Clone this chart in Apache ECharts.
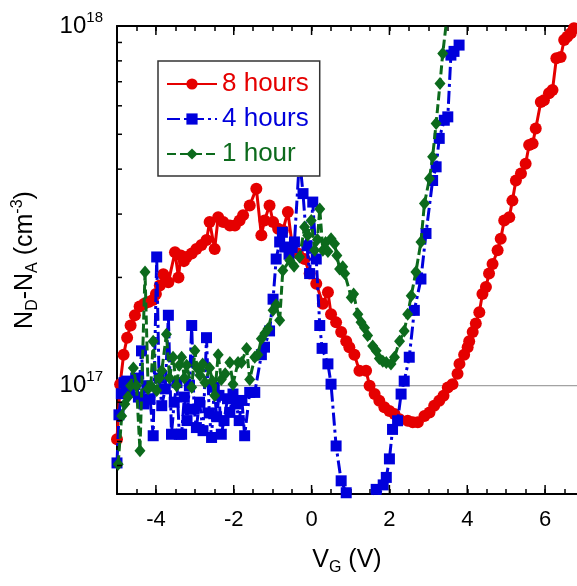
<!DOCTYPE html>
<html>
<head>
<meta charset="utf-8">
<script src="https://cdn.jsdelivr.net/npm/echarts@6/dist/echarts.min.js"></script>
<style>
html,body{margin:0;padding:0;background:#fff;}
#chart{width:577px;height:586px;}
</style>
</head>
<body>
<div id="chart"></div>
<script>
// ---- data ----
const seriesNames = ['8 hours', '4 hours', '1 hour'];

const v8 = [-5.00,-4.92,-4.83,-4.74,-4.65,-4.54,-4.42,-4.30,-4.19,-4.08,
  -4.00,-3.90,-3.81,-3.68,-3.51,-3.42,-3.36,-3.28,-3.21,-3.08,
  -2.96,-2.83,-2.70,-2.62,-2.49,-2.40,-2.27,-2.10,-1.97,-1.85,
  -1.76,-1.59,-1.42,-1.29,-1.21,-1.08,-0.99,-0.86,-0.74,-0.61,
  -0.48,-0.35,-0.18,-0.05,0.12,0.29,0.42,0.50,0.63,0.76,
  0.89,0.97,1.10,1.23,1.40,1.49,1.62,1.74,1.87,2.00,
  2.13,2.26,2.47,2.60,2.73,
  2.90,3.03,3.15,3.28,3.39,3.50,3.62,3.75,3.80,3.92,
  4.01,4.05,4.14,4.22,4.31,4.39,4.48,4.56,4.65,4.78,
  4.86,4.95,5.08,5.16,5.25,5.38,5.50,5.59,5.68,5.76,
  5.89,5.97,6.10,6.19,6.29,6.40,6.49,6.57,6.66,6.74];
const n8 = [7.1e16,1.01e17,1.22e17,1.36e17,1.47e17,1.57e17,1.66e17,1.69e17,1.71e17,1.73e17,
  1.80e17,1.90e17,2.04e17,1.94e17,2.35e17,2.0e17,2.3e17,2.22e17,2.28e17,2.33e17,
  2.40e17,2.46e17,2.54e17,2.85e17,2.40e17,2.94e17,2.85e17,2.79e17,2.79e17,2.88e17,
  2.98e17,3.17e17,3.53e17,2.62e17,2.88e17,3.17e17,2.85e17,2.73e17,2.70e17,3.04e17,
  2.38e17,2.33e17,2.25e17,2.05e17,1.92e17,1.69e17,1.82e17,1.58e17,1.50e17,1.41e17,
  1.33e17,1.28e17,1.22e17,1.10e17,1.10e17,1.00e17,9.48e16,9.08e16,8.71e16,8.51e16,
  8.34e16,8.07e16,7.99e16,7.91e16,7.91e16,
  8.24e16,8.43e16,8.79e16,9.08e16,9.38e16,9.89e16,1.01e17,1.08e17,1.15e17,1.22e17,
  1.28e17,1.33e17,1.41e17,1.49e17,1.60e17,1.80e17,1.88e17,2.05e17,2.18e17,2.38e17,
  2.56e17,2.88e17,2.94e17,3.27e17,3.72e17,3.89e17,4.14e17,4.67e17,4.71e17,5.19e17,
  6.15e17,6.22e17,6.50e17,6.64e17,8.13e17,8.20e17,9.14e17,9.33e17,9.55e17,9.86e17];

const v4 = [-5.00,-4.95,-4.89,-4.82,-4.75,-4.68,-4.60,-4.52,-4.45,-4.37,
  -4.31,-4.23,-4.15,-4.07,-3.98,-3.92,-3.85,-3.76,-3.68,-3.60,
  -3.53,-3.46,-3.40,-3.34,-3.27,-3.20,-3.14,-3.08,-3.02,-2.96,
  -2.88,-2.79,-2.70,-2.63,-2.57,-2.50,-2.44,-2.38,-2.32,-2.25,
  -2.16,-2.10,-2.02,-1.94,-1.86,-1.79,-1.72,-1.59,-1.46,-1.29,
  -1.21,-1.08,-0.99,-0.91,-0.82,-0.75,-0.69,-0.58,-0.50,-0.44,
  -0.31,-0.22,-0.12,-0.05,0.03,0.12,0.21,0.27,0.42,0.50,
  0.63,0.76,0.89,1.05,1.30,1.52,1.66,1.74,1.84,1.92,
  2.00,2.08,2.21,2.30,2.38,2.51,2.64,2.81,2.94,3.11,
  3.20,3.28,3.41,3.50,3.58,3.66,3.79];
const n4 = [6.1e16,8.3e16,9.5e16,1.02e17,1.03e17,9.6e16,1.02e17,1.05e17,9.3e16,1.25e17,
  8.9e16,1.0e17,9.2e16,7.26e16,2.28e17,1.05e17,8.8e16,9.8e16,1.57e17,7.33e16,
  9.0e16,1.02e17,7.33e16,7.33e16,9.3e16,8.0e16,1.0e17,1.47e17,8.6e16,7.65e16,
  9.0e16,7.5e16,1.36e17,8.4e16,7.18e16,9.9e16,8.2e16,9.4e16,7.33e16,8.0e16,
  9.2e16,8.43e16,9.48e16,8.9e16,8.0e16,9.1e16,7.26e16,9.58e16,9.58e16,1.22e17,
  1.28e17,1.42e17,1.74e17,2.25e17,2.51e17,2.67e17,2.43e17,2.32e17,2.42e17,2.51e17,
  4.3e17,3.42e17,2.45e17,2.05e17,3.24e17,2.25e17,1.47e17,1.27e17,1.15e17,1.01e17,
  6.8e16,5.44e16,5.04e16,4.3e16,3.9e16,4.5e16,5.15e16,4.99e16,5.3e16,5.56e16,
  6.26e16,7.56e16,7.99e16,9.48e16,1.03e17,1.20e17,1.62e17,1.98e17,2.65e17,3.72e17,
  4.06e17,4.87e17,5.47e17,5.59e17,8.30e17,8.5e17,8.85e17];

const v1 = [-4.97,-4.88,-4.80,-4.72,-4.65,-4.58,-4.50,-4.41,-4.28,-4.20,
  -4.13,-4.07,-3.98,-3.91,-3.85,-3.73,-3.65,-3.56,-3.47,-3.40,
  -3.34,-3.27,-3.21,-3.08,-3.00,-2.94,-2.87,-2.80,-2.74,-2.62,
  -2.55,-2.49,-2.40,-2.32,-2.22,-2.10,-2.02,-1.89,-1.80,-1.67,
  -1.59,-1.46,-1.38,-1.29,-1.20,-1.12,-0.99,-0.91,-0.82,-0.74,
  -0.56,-0.45,-0.31,-0.18,-0.10,-0.01,0.08,0.15,0.21,0.29,
  0.36,0.42,0.50,0.59,0.65,0.72,0.80,0.85,1.02,1.08,
  1.19,1.27,1.36,1.44,1.57,1.66,1.74,1.83,1.92,2.04,
  2.13,2.26,2.38,2.47,2.56,2.68,2.81,2.90,3.03,3.11,
  3.20,3.30,3.37,3.48];
const n1 = [6.05e16,8.24e16,8.9e16,9.3e16,1.0e17,1.12e17,1.0e17,6.6e16,2.07e17,9.8e16,
  1.0e17,1.33e17,9.7e16,1.05e17,1.10e17,1.39e17,1.05e17,1.20e17,1.00e17,1.14e17,
  1.20e17,1.05e17,1.14e17,9.9e16,1.25e17,1.12e17,1.07e17,1.15e17,1.02e17,1.12e17,
  1.03e17,9.4e16,1.22e17,1.04e17,1.08e17,1.16e17,1.01e17,1.16e17,1.16e17,1.27e17,
  1.04e17,1.20e17,1.22e17,1.35e17,1.40e17,1.44e17,1.62e17,1.68e17,1.52e17,2.09e17,
  2.23e17,2.15e17,2.28e17,2.76e17,2.62e17,2.88e17,2.38e17,2.55e17,3.10e17,2.38e17,
  2.50e17,2.36e17,2.56e17,2.48e17,2.30e17,2.11e17,2.14e17,2.05e17,1.76e17,1.80e17,
  1.58e17,1.50e17,1.45e17,1.38e17,1.29e17,1.25e17,1.19e17,1.17e17,1.16e17,1.15e17,
  1.20e17,1.33e17,1.42e17,1.58e17,1.78e17,2.07e17,2.51e17,3.21e17,3.77e17,4.33e17,
  5.36e17,6.92e17,8.39e17,1.06e18];

// axis ticks / labels
const xMajorTicks = [-4, -2, 0, 2, 4, 6];
const yMinorTicks = [6e16, 7e16, 8e16, 9e16, 2e17, 3e17, 4e17, 5e17, 6e17, 7e17, 8e17, 9e17];
const yGridLines = [1e17];

const X_MIN = -5, X_MAX = 6.82, Y_MIN = 5e16, Y_MAX = 1e18;
const RED = '#e50000', BLUE = '#0000dc', GREEN = '#0c6a1c';
const FONT = 'Liberation Sans, Arial, Helvetica, sans-serif';

const pairs = (xs, ys) => xs.map((x, i) => [x, ys[i]]);

const chart = echarts.init(document.getElementById('chart'));

const option = {
  animation: false,
  backgroundColor: '#fff',
  textStyle: { fontFamily: FONT },
  grid: { left: 117, top: 26, right: 0, bottom: 92, containLabel: false },
  legend: {
    orient: 'vertical',
    left: 158, top: 61,
    itemWidth: 50, itemHeight: 14, itemGap: 9,
    padding: [10, 11, 9, 8],
    borderColor: '#333', borderWidth: 1.5, borderRadius: 0,
    backgroundColor: '#fff',
    textStyle: { fontSize: 26, fontFamily: FONT },
    data: [
      { name: seriesNames[0], textStyle: { color: RED } },
      { name: seriesNames[1], textStyle: { color: BLUE } },
      { name: seriesNames[2], textStyle: { color: GREEN } }
    ]
  },
  xAxis: [{
    type: 'value', min: X_MIN, max: X_MAX, interval: 0.5, position: 'bottom',
    axisLine: { onZero: false, lineStyle: { color: '#000', width: 2 } },
    axisTick: { inside: true, length: 5, lineStyle: { color: '#000', width: 1.5 } },
    splitLine: { show: false },
    axisLabel: {
      margin: 15, fontSize: 22, color: '#000', fontFamily: FONT,
      showMinLabel: true, showMaxLabel: false,
      formatter: function (v) {
        const r = Math.round(v);
        return (Math.abs(r - v) < 1e-6 && r % 2 === 0) ? String(r) : '';
      }
    },
    name: '{n|V}{sub|G}{n| (V)}',
    nameLocation: 'middle', nameGap: 51,
    nameTextStyle: {
      color: '#000', fontSize: 25, fontFamily: FONT,
      rich: {
        n: { fontSize: 25, color: '#000', fontFamily: FONT },
        sub: { fontSize: 16, color: '#000', fontFamily: FONT, padding: [15, 0, 0, 0] }
      }
    }
  }, {
    type: 'value', min: X_MIN, max: X_MAX, interval: 0.5, position: 'top',
    axisLine: { onZero: false, lineStyle: { color: '#000', width: 2 } },
    axisTick: { inside: true, length: 5, lineStyle: { color: '#000', width: 1.5 } },
    splitLine: { show: false },
    axisLabel: { show: false }
  }],
  yAxis: {
    type: 'log', logBase: 10, min: Y_MIN, max: Y_MAX,
    axisLine: { show: true, onZero: false, lineStyle: { color: '#000', width: 2 } },
    axisTick: { inside: true, length: 9, lineStyle: { color: '#000', width: 1.5 } },
    splitLine: { show: false },
    axisLabel: {
      margin: 14, color: '#000', fontFamily: FONT,
      formatter: function (v) {
        const e = Math.log10(v);
        const r = Math.round(e);
        if (Math.abs(e - r) > 1e-6) return '';
        return '{b|10}{s|' + r + '}';
      },
      rich: {
        b: { fontSize: 24, color: '#000', fontFamily: FONT },
        s: { fontSize: 15, color: '#000', fontFamily: FONT, padding: [0, 0, 17, 0] }
      }
    },
    name: '{n|N}{sub|D}{n|-N}{sub|A}{n| (cm}{sup|-3}{n|)}',
    nameLocation: 'middle', nameGap: 76, nameRotate: 90,
    nameTextStyle: {
      color: '#000', fontSize: 25, fontFamily: FONT,
      rich: {
        n: { fontSize: 25, color: '#000', fontFamily: FONT },
        sub: { fontSize: 16, color: '#000', fontFamily: FONT, padding: [15, 0, 0, 0] },
        sup: { fontSize: 16, color: '#000', fontFamily: FONT, padding: [0, 0, 15, 0] }
      }
    }
  },
  series: [
    {
      name: 'grid', type: 'custom', z: 1, silent: true,
      data: yGridLines.map(v => [X_MIN, v]),
      renderItem: function (params, api) {
        const a = api.coord([X_MIN, api.value(1)]);
        const b = api.coord([X_MAX, api.value(1)]);
        return { type: 'line', shape: { x1: a[0], y1: a[1], x2: b[0], y2: b[1] },
          style: { stroke: '#8c8c8c', lineWidth: 1 } };
      }
    },
    {
      name: 'yminor', type: 'custom', z: 5, silent: true,
      data: yMinorTicks.map(v => [X_MIN, v]),
      renderItem: function (params, api) {
        const p = api.coord([api.value(0), api.value(1)]);
        return { type: 'line', shape: { x1: p[0], y1: p[1], x2: p[0] + 5, y2: p[1] },
          style: { stroke: '#000', lineWidth: 1.5 } };
      }
    },
    {
      name: 'xmajor', type: 'custom', z: 5, silent: true,
      data: xMajorTicks.map(v => [v, Y_MIN]),
      renderItem: function (params, api) {
        const p = api.coord([api.value(0), Y_MIN]);
        const q = api.coord([api.value(0), Y_MAX]);
        return { type: 'group', children: [
          { type: 'line', shape: { x1: p[0], y1: p[1], x2: p[0], y2: p[1] - 9 }, style: { stroke: '#000', lineWidth: 1.5 } },
          { type: 'line', shape: { x1: q[0], y1: q[1], x2: q[0], y2: q[1] + 9 }, style: { stroke: '#000', lineWidth: 1.5 } }
        ] };
      }
    },
    {
      name: seriesNames[0], type: 'line', z: 2,
      data: pairs(v8, n8),
      symbol: 'circle', symbolSize: 12,
      itemStyle: { color: RED },
      lineStyle: { color: RED, width: 3 }
    },
    {
      name: seriesNames[1], type: 'line', z: 3,
      data: pairs(v4, n4),
      symbol: 'rect', symbolSize: 11,
      itemStyle: { color: BLUE },
      lineStyle: { color: BLUE, width: 3, type: [13, 4, 3, 4] }
    },
    {
      name: seriesNames[2], type: 'line', z: 4,
      data: pairs(v1, n1),
      symbol: 'diamond', symbolSize: [11, 13],
      itemStyle: { color: GREEN },
      lineStyle: { color: GREEN, width: 3, type: [9, 4] }
    }
  ]
};

chart.setOption(option);
</script>
</body>
</html>
